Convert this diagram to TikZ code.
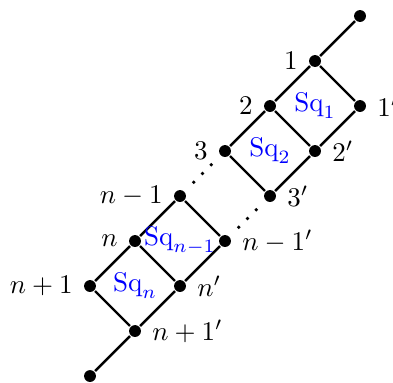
\documentclass[tikz,border=0pt]{standalone}
\usepackage{amsmath,amssymb}
\usepackage{tikz}
\usetikzlibrary{positioning}

\begin{document}
\begin{tikzpicture}[
    x=0.586cm, y=0.586cm,
    line width=0.9pt,
    vertex/.style={circle, fill, inner sep=0pt, minimum size=4.4pt},
    small dot/.style={circle, fill, inner sep=0pt, minimum size=1.4pt},
    sq label/.style={text=blue}
]
    \useasboundingbox (-2.0,-0.133) rectangle (6.733,8.356);

    % the chain, from the bottom up
    \node[vertex] (bot) at (0,0) {};
    \node[vertex, label=right:{$n+1'$}] (np1p) at (1,1) {};
    \node[vertex, label=left:{$n+1$}] (np1) at (0,2) {};
    \node[vertex, label=right:{$n'$}] (np) at (2,2) {};
    \node[vertex, label=left:{$n$}] (n) at (1,3) {};
    \node[vertex, label=right:{$n-1'$}] (nm1p) at (3,3) {};
    \node[vertex, label=left:{$n-1$}] (nm1) at (2,4) {};

    \node[vertex, label=right:{$3'$}] (v3p) at (4,4) {};
    \node[vertex, label=left:{$3$}] (v3) at (3,5) {};
    \node[vertex, label=right:{$2'$}] (v2p) at (5,5) {};
    \node[vertex, label=left:{$2$}] (v2) at (4,6) {};
    \node[vertex, label=right:{$1'$}] (v1p) at (6,6) {};
    \node[vertex, label=left:{$1$}] (v1) at (5,7) {};
    \node[vertex] (top) at (6,8) {};

    \draw (bot) -- (np1p);
    \draw (np1p) -- (np1);
    \draw (np1p) -- (np);
    \draw (np1) -- (n);
    \draw (n) -- (np);
    \draw (np) -- (nm1p);
    \draw (n) -- (nm1);
    \draw (nm1) -- (nm1p);

    \draw (v3p) -- (v3);
    \draw (v3p) -- (v2p);
    \draw (v3) -- (v2);
    \draw (v2) -- (v2p);
    \draw (v2p) -- (v1p);
    \draw (v2) -- (v1);
    \draw (v1) -- (v1p);
    \draw (v1) -- (top);

    % the gap
    \foreach \p in {0.25,0.5,0.75} {
        \path (nm1) -- (v3) node[small dot, pos=\p] {};
        \path (nm1p) -- (v3p) node[small dot, pos=\p] {};
    }

    \node[sq label] (sq1) at (5,6) {$\mathrm{Sq}_1$};
    \node[sq label] (sq2) at (4,5) {$\mathrm{Sq}_2$};
    \node[sq label] (sqnm1) at (2,3) {$\mathrm{Sq}_{n-1}$};
    \node[sq label] (sqn) at (1,2) {$\mathrm{Sq}_n$};

\end{tikzpicture}
\end{document}
